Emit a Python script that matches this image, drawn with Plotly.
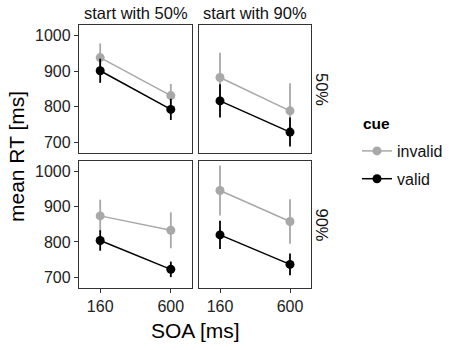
import plotly.graph_objects as go

soa = ["160", "600"]
col_labels = ["start with 50%", "start with 90%"]
row_labels = ["50%", "90%"]
# panel order: (row 50%, start 50%), (row 50%, start 90%), (row 90%, start 50%), (row 90%, start 90%)
invalid_mean = [[938, 831], [882, 788], [874, 833], [946, 858]]
invalid_err = [[40, 33], [70, 78], [46, 51], [71, 63]]
valid_mean = [[901, 792], [816, 728], [804, 722], [820, 736]]
valid_err = [[34, 30], [47, 41], [29, 22], [40, 31]]
y_ticks = [700, 800, 900, 1000]

W, H = 469, 350
FONT = "Liberation Sans, Arial, sans-serif"
GRAY = "#A8A8A8"
BLACK = "#000000"

col_px = [(79, 192), (199, 311)]
row_px = [(25, 153), (161, 288)]

fig = go.Figure()
layout = dict()
for r in range(2):
    for c in range(2):
        i = r * 2 + c
        n = i + 1
        xa = "x" if n == 1 else f"x{n}"
        ya = "y" if n == 1 else f"y{n}"
        for name, means, errs, color in [("invalid", invalid_mean[i], invalid_err[i], GRAY),
                                         ("valid", valid_mean[i], valid_err[i], BLACK)]:
            fig.add_trace(go.Scatter(
                x=soa, y=means, mode="lines+markers", name=name,
                legendgroup=name, showlegend=(i == 0),
                line=dict(color=color, width=1.5),
                marker=dict(color=color, size=9),
                error_y=dict(type="data", array=errs, visible=True, color=color,
                             thickness=1.8, width=0),
                xaxis=xa, yaxis=ya,
            ))
        x0, x1 = col_px[c]
        y0, y1 = row_px[r]
        xkey = "xaxis" if n == 1 else f"xaxis{n}"
        ykey = "yaxis" if n == 1 else f"yaxis{n}"
        layout[xkey] = dict(
            domain=[x0 / W, x1 / W], anchor=ya, type="category",
            range=[-0.3, 1.3], showgrid=False, zeroline=False,
            showline=True, linecolor="#333333", linewidth=1.3, mirror=True,
            ticks="outside" if r == 1 else "", ticklen=4, tickwidth=1.2, tickcolor="#333333",
            showticklabels=(r == 1),
            tickfont=dict(family=FONT, size=16, color="#222222"),
        )
        layout[ykey] = dict(
            domain=[1 - y1 / H, 1 - y0 / H], anchor=xa,
            range=[669, 1030], showgrid=False, zeroline=False,
            showline=True, linecolor="#333333", linewidth=1.3, mirror=True,
            tickvals=y_ticks,
            ticks="outside" if c == 0 else "", ticklen=4, tickwidth=1.2, tickcolor="#333333",
            showticklabels=(c == 0),
            tickfont=dict(family=FONT, size=16, color="#222222"),
        )

annotations = []
for c in range(2):
    x0, x1 = col_px[c]
    annotations.append(dict(text=col_labels[c], x=(x0 + x1) / 2 / W, y=1 - 13 / H,
                            xref="paper", yref="paper", showarrow=False,
                            font=dict(family=FONT, size=16.5, color="#111111"),
                            xanchor="center", yanchor="middle"))
for r in range(2):
    y0, y1 = row_px[r]
    annotations.append(dict(text=row_labels[r], x=322 / W, y=1 - (y0 + y1) / 2 / H,
                            xref="paper", yref="paper", showarrow=False, textangle=90,
                            font=dict(family=FONT, size=16.5, color="#111111"),
                            xanchor="center", yanchor="middle"))
annotations.append(dict(text="mean RT [ms]", x=16 / W, y=1 - 157 / H, xref="paper", yref="paper",
                        showarrow=False, textangle=-90,
                        font=dict(family=FONT, size=21, color="#000000"),
                        xanchor="center", yanchor="middle"))
annotations.append(dict(text="SOA [ms]", x=195 / W, y=1 - 330 / H, xref="paper", yref="paper",
                        showarrow=False,
                        font=dict(family=FONT, size=21, color="#000000"),
                        xanchor="center", yanchor="middle"))
annotations.append(dict(text="<b>cue</b>", x=361 / W, y=1 - 123 / H, xref="paper", yref="paper",
                        showarrow=False,
                        font=dict(family=FONT, size=15.5, color="#000000"),
                        xanchor="left", yanchor="middle"))

fig.update_layout(
    width=W, height=H, margin=dict(l=0, r=0, t=0, b=0),
    paper_bgcolor="white", plot_bgcolor="white",
    annotations=annotations,
    legend=dict(x=357 / W, y=1 - 134 / H, xanchor="left", yanchor="top",
                font=dict(family=FONT, size=16, color="#111111"),
                itemwidth=30, tracegroupgap=4, bgcolor="rgba(0,0,0,0)"),
    **layout,
)
fig.write_html("out.html")
